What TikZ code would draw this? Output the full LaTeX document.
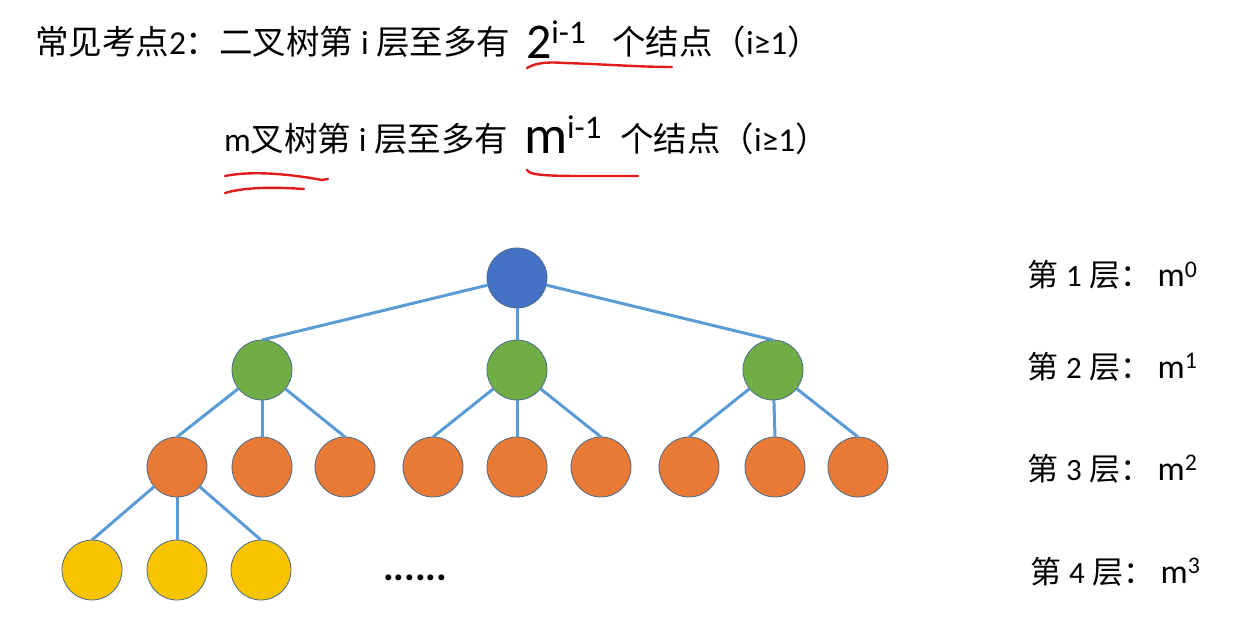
\documentclass[tikz,border=0pt]{standalone}
\usepackage{fontspec}
\setmainfont{Carlito}
\newfontfamily\cjk{Noto Sans CJK SC}
\definecolor{cblue}{HTML}{4472C4}
\definecolor{cgreen}{HTML}{70AD47}
\definecolor{corange}{HTML}{E97A35}
\definecolor{cyellow}{HTML}{F8C400}
\definecolor{cedge}{HTML}{5B9BD5}
\definecolor{cline}{HTML}{4A6A8A}
\definecolor{cred}{HTML}{E01B1B}
\newcommand{\lvlabel}[2]{{\cjk 第}\hspace{8pt}#1\hspace{8pt}{\cjk 层：}\hspace{6pt}{\fontsize{34}{34}\selectfont m\textsuperscript{#2}}}
\begin{document}
\begin{tikzpicture}[x=1pt,y=-1pt,
  every node/.style={inner sep=0pt, outer sep=0pt},
  tn/.style={circle, minimum width=60pt, minimum height=59pt, draw=cline, line width=0.8pt},
  lv1/.style={tn, fill=cblue},
  lv2/.style={tn, fill=cgreen},
  lv3/.style={tn, fill=corange},
  lv4/.style={tn, fill=cyellow},
  edge/.style={draw=cedge, line width=3pt},
  txt/.style={anchor=base west, font=\fontsize{33.5}{33.5}\selectfont},
  lab/.style={anchor=base west, font=\fontsize{31}{31}\selectfont},
  redline/.style={draw=cred, line width=2.4pt, line cap=round}
]
\useasboundingbox (0,0) rectangle (1250,620);

% heading text
\node[txt] (t1a) at (35,55) {{\cjk 常见考点}2{\cjk ：二叉树第} i {\cjk 层至多有}};
\node[anchor=base west, font=\fontsize{50}{50}\selectfont] (t1b) at (526,59) {2\raisebox{15pt}{\fontsize{33}{33}\selectfont i-1}};
\node[txt] (t1c) at (612,55) {{\cjk 个结点（}i≥1{\cjk ）}};

\node[txt] (t2a) at (224,152) {m{\cjk 叉树第} i {\cjk 层至多有}};
\node[anchor=base west, font=\fontsize{54}{54}\selectfont] (t2b) at (524,154) {m\raisebox{15pt}{\fontsize{33}{33}\selectfont i-1}};
\node[txt] (t2c) at (620,152) {{\cjk 个结点（}i≥1{\cjk ）}};

% red hand underlines
\draw[redline] (527,68) .. controls (537,62) and (550,62) .. (565,63) .. controls (600,64) and (640,67) .. (672,67);
\draw[redline] (225,176) .. controls (255,170) and (295,175) .. (322,180) -- (328,179);
\draw[redline] (225,193) .. controls (245,187) and (275,187) .. (304,189);
\draw[redline] (527,170) .. controls (530,177) and (560,176) .. (638,176);

% tree
\node[lv1] (r) at (517,278) {};
\node[lv2] (a) at (262,370) {};
\node[lv2] (b) at (517,370) {};
\node[lv2] (c) at (773,370) {};
\node[lv3] (a1) at (177,467) {};
\node[lv3] (a2) at (262,467) {};
\node[lv3] (a3) at (345,467) {};
\node[lv3] (b1) at (433,467) {};
\node[lv3] (b2) at (517,467) {};
\node[lv3] (b3) at (601,467) {};
\node[lv3] (c1) at (689,467) {};
\node[lv3] (c2) at (775,467) {};
\node[lv3] (c3) at (858,467) {};
\node[lv4] (d1) at (92,570) {};
\node[lv4] (d2) at (177,570) {};
\node[lv4] (d3) at (261,570) {};

\foreach \p/\c in {r/a,r/b,r/c,a/a1,a/a2,a/a3,b/b1,b/b2,b/b3,c/c1,c/c2,c/c3,a1/d1,a1/d2,a1/d3}
  \draw[edge] (\p) -- (\c.north);

\node[anchor=base west, font=\fontsize{40}{40}\selectfont\bfseries] (dots) at (383,580) {......};

% level labels
\node[lab] (l1) at (1027,287) {\lvlabel{1}{0}};
\node[lab] (l2) at (1027,378) {\lvlabel{2}{1}};
\node[lab] (l3) at (1027,480) {\lvlabel{3}{2}};
\node[lab] (l4) at (1030,583) {\lvlabel{4}{3}};
\end{tikzpicture}
\end{document}
